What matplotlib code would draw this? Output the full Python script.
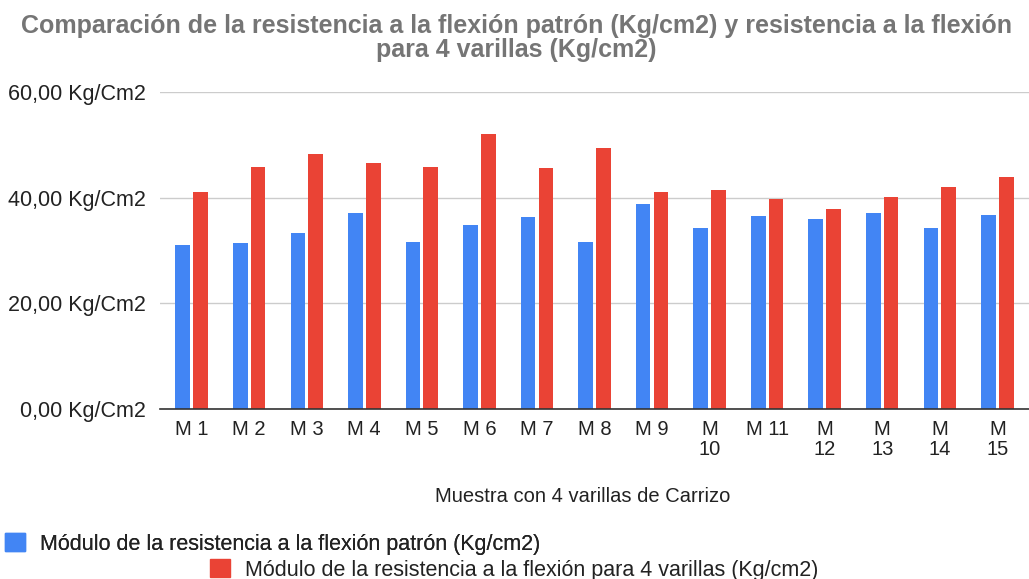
import matplotlib
matplotlib.use("Agg")
import matplotlib.pyplot as plt
import matplotlib.patches as mpatches
import numpy as np

plt.rcParams['font.family'] = ['Liberation Sans', 'DejaVu Sans']

# data
categories = ["M 1", "M 2", "M 3", "M 4", "M 5", "M 6", "M 7", "M 8", "M 9",
              "M\n10", "M 11", "M\n12", "M\n13", "M\n14", "M\n15"]
patron = [31.0, 31.4, 33.3, 37.1, 31.7, 34.9, 36.3, 31.7, 38.8, 34.3, 36.6, 35.9, 37.1, 34.3, 36.8]
varillas = [41.1, 45.9, 48.2, 46.5, 45.9, 52.1, 45.6, 49.4, 41.1, 41.4, 39.8, 37.8, 40.1, 42.0, 44.0]
yticks = [0, 20, 40, 60]
ytick_labels = ["0,00 Kg/Cm2", "20,00 Kg/Cm2", "40,00 Kg/Cm2", "60,00 Kg/Cm2"]

blue = "#4285F4"
red = "#EA4335"
txt = "#222222"

fig = plt.figure(figsize=(10.29, 5.79), dpi=100)
ax = fig.add_axes([0.1555, 0.2936, 0.8445, 0.5474])

x = np.arange(len(categories))
w = 0.255
ax.bar(x - w / 2 - 0.027, patron, width=w, color=blue, zorder=3)
ax.bar(x + w / 2 + 0.027, varillas, width=w, color=red, zorder=3)

ax.set_xlim(-0.55, len(categories) - 0.45)
ax.set_ylim(0, 60)
ax.set_yticks(yticks)
ax.set_yticklabels(ytick_labels, fontsize=15.5, color=txt)
ax.set_xticks(x)
ax.set_xticklabels(categories, fontsize=14.5, color=txt, va="top", linespacing=1.05)
ax.tick_params(axis="both", length=0)
ax.tick_params(axis="y", pad=10)
ax.tick_params(axis="x", pad=8)
ax.grid(axis="y", color="#cccccc", linewidth=1, zorder=0)
for s in ["top", "right", "left"]:
    ax.spines[s].set_visible(False)
ax.spines["bottom"].set_color("#333333")
ax.spines["bottom"].set_linewidth(1.2)
ax.spines["bottom"].set_zorder(4)

fig.text(0.502, 0.975, "Comparación de la resistencia a la flexión patrón (Kg/cm2) y resistencia a la flexión\npara 4 varillas (Kg/cm2)",
         ha="center", va="top", fontsize=18, fontweight="bold", color="#757575", linespacing=1.0)

fig.text(0.566, 0.142, "Muestra con 4 varillas de Carrizo", ha="center", va="center",
         fontsize=14.5, color=txt)

h1 = mpatches.Patch(color=blue, label="Módulo de la resistencia a la flexión patrón (Kg/cm2)")
h2 = mpatches.Patch(color=red, label="Módulo de la resistencia a la flexión para 4 varillas (Kg/cm2)")
leg_kw = dict(loc="center left", frameon=False, fontsize=15.5, handlelength=0.92,
              handleheight=0.85, handletextpad=0.7, borderpad=0, borderaxespad=0)
leg1 = fig.legend(handles=[h1], bbox_to_anchor=(5 / 1029, 1 - 544 / 579), **leg_kw)
for t in leg1.get_texts():
    t.set_color(txt)
fig.add_artist(leg1)
leg2 = fig.legend(handles=[h2], bbox_to_anchor=(210 / 1029, 1 - 570 / 579), **leg_kw)
for t in leg2.get_texts():
    t.set_color(txt)

fig.savefig("out.png", dpi=100)
